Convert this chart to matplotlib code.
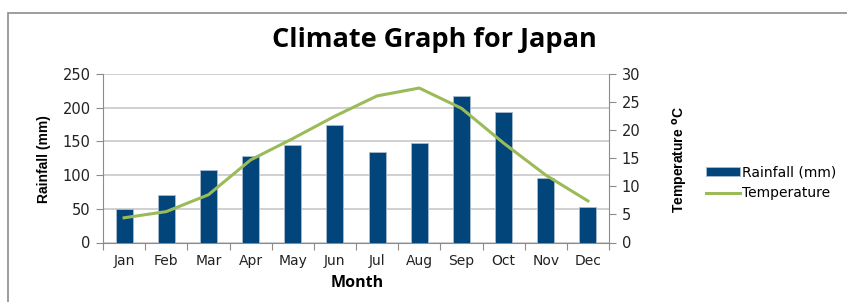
import matplotlib.pyplot as plt
from matplotlib.patches import Rectangle

months = ['Jan', 'Feb', 'Mar', 'Apr', 'May', 'Jun', 'Jul', 'Aug', 'Sep', 'Oct', 'Nov', 'Dec']
rainfall = [50, 71, 107, 129, 145, 175, 134, 147, 217, 194, 96, 53]
temperature = [4.4, 5.5, 8.5, 14.7, 18.5, 22.5, 26.1, 27.5, 23.9, 17.7, 12.0, 7.4]

bar_color = '#02457A'
line_color = '#9BBB59'
grid_color = '#C8C8C8'
axis_color = '#8C8C8C'
tick_font = ['DejaVu Sans']
label_font = ['Liberation Sans Narrow', 'Liberation Sans', 'DejaVu Sans']

fig = plt.figure(figsize=(8.47, 3.02), dpi=100)
fig.patches.append(Rectangle((8/847, -0.1), 1.1, 1 - 13/302 + 0.1, transform=fig.transFigure,
                             fill=False, edgecolor=axis_color, lw=1.2))

ax = fig.add_axes([103/847, 1 - 242.5/302, 506/847, 168.5/302])
x = list(range(len(months)))
bars = ax.bar(x, rainfall, width=0.4, color=bar_color, edgecolor='#A9BCD0', linewidth=0.6,
              label='Rainfall (mm)', zorder=3)
ax.set_xlim(-0.5, 11.5)
ax.set_ylim(0, 250)
ax.set_yticks(range(0, 251, 50))
ax.grid(axis='y', color=grid_color, lw=1.2, zorder=0)
ax.set_axisbelow(True)

ax.set_xticks([i - 0.5 for i in range(13)])
ax.set_xticklabels([])
ax.set_xticks(x, minor=True)
ax.set_xticklabels(months, minor=True, fontsize=10, family=tick_font, color='#222222')
ax.tick_params(axis='x', which='major', length=5, color=axis_color, direction='out')
ax.tick_params(axis='x', which='minor', length=0, pad=8)
ax.tick_params(axis='y', length=5, color=axis_color, labelsize=10.5, pad=4, labelcolor='#222222')
for t in ax.get_yticklabels():
    t.set_family(tick_font)
for s in ['top', 'right']:
    ax.spines[s].set_visible(False)
for s in ['left', 'bottom']:
    ax.spines[s].set_color(axis_color)

ax2 = ax.twinx()
line, = ax2.plot(x, temperature, color=line_color, lw=2.2, label='Temperature', zorder=4)
ax2.set_ylim(0, 30)
ax2.set_yticks(range(0, 31, 5))
ax2.tick_params(axis='y', length=5, color=axis_color, labelsize=10.5, pad=4, labelcolor='#222222')
for t in ax2.get_yticklabels():
    t.set_family(tick_font)
for s in ['top', 'left', 'bottom']:
    ax2.spines[s].set_visible(False)
ax2.spines['right'].set_color(axis_color)

fig.text(434/847, 1 - 40/302, 'Climate Graph for Japan', ha='center', va='center',
         fontsize=19.5, fontweight='bold', family=['Open Sans', 'DejaVu Sans'])
fig.text(44/847, 1 - 159/302, 'Rainfall (mm)', rotation=90, ha='center', va='center',
         fontsize=10, fontweight='bold', family=label_font)
fig.text(680/847, 1 - 160/302, 'Temperature $^{\\mathbf{o}}$C', rotation=90, ha='center', va='center',
         fontsize=10, fontweight='bold', family=label_font)
fig.text(357/847, 1 - 283/302, 'Month', ha='center', va='center',
         fontsize=11.5, fontweight='bold', family=['Open Sans', 'DejaVu Sans'])

leg = fig.legend([bars, line], ['Rainfall (mm)', 'Temperature'], loc='center left',
                 bbox_to_anchor=(700/847, 1 - 183/302), frameon=False,
                 prop={'family': tick_font, 'size': 10}, handlelength=2.5, handleheight=0.6,
                 handletextpad=0.15, labelspacing=0.5, borderaxespad=0)

fig.savefig('out.png', dpi=100)
